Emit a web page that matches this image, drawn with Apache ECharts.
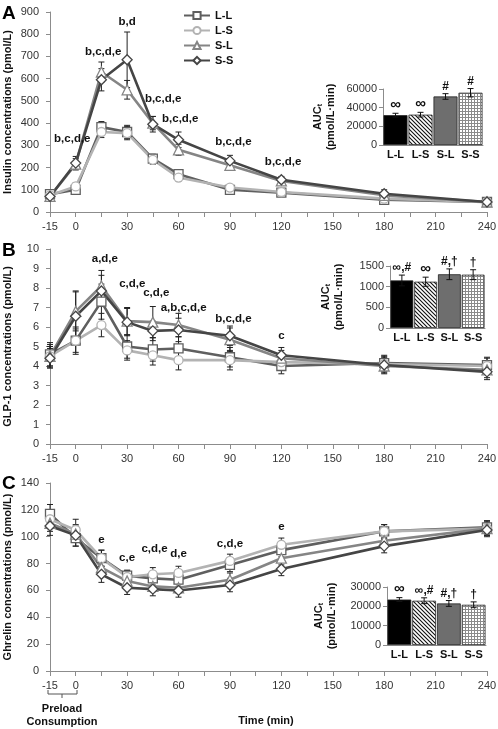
<!DOCTYPE html>
<html><head><meta charset="utf-8">
<script src="https://cdn.jsdelivr.net/npm/echarts@6/dist/echarts.min.js"></script>
<style>html,body{margin:0;padding:0;background:#fff}#c{width:498px;height:729px}</style>
</head><body><div id="c"></div>
<script>
const times = [-15,0,15,30,45,60,90,120,180,240];
const groups = ['L-L','L-S','S-L','S-S'];
const xTickLabels = [-15,0,30,60,90,120,150,180,210,240];

// Panel A: Insulin (pmol/L)
const insLL = [80,100,382,360,240,170,100,87,55,45];
const insLS = [75,115,360,355,235,155,110,90,60,45];
const insSL = [70,215,630,550,400,280,210,140,75,45];
const insSS = [70,220,595,685,395,325,230,145,82,45];
const insErrLL = [10,15,25,30,20,15,10,10,10,8];
const insErrLS = [10,15,25,30,20,15,10,10,10,8];
const insErrSL = [15,25,45,42,30,25,20,15,15,8];
const insErrSS = [15,30,50,125,35,35,25,15,18,8];
const insAnn = [[-2,330,'b,c,d,e'],[16,720,'b,c,d,e'],[30,855,'b,d'],[51,510,'b,c,d,e'],[61,418,'b,c,d,e'],[92,315,'b,c,d,e'],[121,225,'b,c,d,e']];
const insAUC = [32000,32500,52000,56000];
const insAUCErr = [2000,2500,3000,4500];
const insAUCLab = ['∞','∞','#','#'];

// Panel B: GLP-1 (pmol/L)
const glpLL = [4.6,5.3,7.3,5.0,4.85,4.9,4.45,4.0,4.15,4.05];
const glpLS = [4.5,5.3,6.1,4.8,4.55,4.3,4.3,4.2,4.1,4.0];
const glpSL = [4.5,6.8,8.1,6.3,6.25,6.1,5.35,4.4,4.0,3.8];
const glpSS = [4.4,6.55,7.85,6.25,5.8,5.85,5.55,4.55,4.05,3.7];
const glpErrLL = [0.6,0.7,0.9,0.6,0.6,0.6,0.5,0.4,0.4,0.4];
const glpErrLS = [0.5,0.6,0.6,0.5,0.5,0.5,0.5,0.4,0.4,0.4];
const glpErrSL = [0.6,1.0,0.8,0.7,0.8,0.6,0.6,0.4,0.4,0.4];
const glpErrSS = [0.5,1.3,0.8,0.7,0.5,0.6,0.5,0.4,0.4,0.4];
const glpAnn = [[17,9.5,'a,d,e'],[33,8.2,'c,d,e'],[47,7.75,'c,d,e'],[63,7.0,'a,b,c,d,e'],[92,6.4,'b,c,d,e'],[120,5.55,'c']];
const glpAUC = [1150,1120,1300,1290];
const glpAUCErr = [130,110,130,120];
const glpAUCLab = ['∞,#','∞','#,†','†'];

// Panel C: Ghrelin (pmol/L)
const ghrLL = [117,99,84,71,69,68,79,90,104,107];
const ghrLS = [113,105,84,70,72,73,82,94,104,106];
const ghrSL = [110,102,77,67,63,62,68,84,97,106];
const ghrSS = [108,101,72,62,61,60,64,76,93,105];
const ghrErrLL = [7,6,6,4,5,5,5,5,5,5];
const ghrErrLS = [7,8,6,5,5,5,5,5,5,5];
const ghrErrSL = [6,6,6,5,4,4,5,5,5,5];
const ghrErrSS = [7,8,6,5,5,5,5,5,5,5];
const ghrAnn = [[15,98,'e'],[30,84,'c,e'],[46,90.7,'c,d,e'],[60,87,'d,e'],[90,95,'c,d,e'],[120,107,'e']];
const ghrAUC = [23500,22900,21500,20800];
const ghrAUCErr = [1000,1500,1500,1500];
const ghrAUCLab = ['∞','∞,#','#,†','†'];

const colors = ['#5f5f5f','#b3b3b3','#858585','#454545'];
const symbols = ['rect','circle','triangle','diamond'];
const FONT = '"Liberation Sans", Arial, sans-serif';

function hatchCanvas(){
  const c=document.createElement('canvas'); c.width=4; c.height=4;
  const g=c.getContext('2d'); g.fillStyle='#fff'; g.fillRect(0,0,4,4);
  g.strokeStyle='#111'; g.lineWidth=1.1; g.beginPath();
  g.moveTo(0,0); g.lineTo(4,4); g.moveTo(-2,2); g.lineTo(2,6); g.moveTo(2,-2); g.lineTo(6,2);
  g.stroke(); return c;
}
function gridCanvas(){
  const c=document.createElement('canvas'); c.width=3; c.height=3;
  const g=c.getContext('2d'); g.fillStyle='#fff'; g.fillRect(0,0,3,3);
  g.fillStyle='#8a8a8a'; g.fillRect(0,0,3,1); g.fillRect(0,0,1,3); return c;
}
const barFills = ['#000', {image:hatchCanvas(), repeat:'repeat'}, '#6e6e6e', {image:gridCanvas(), repeat:'repeat'}];

const axisLineStyle = {onZero:false, lineStyle:{color:'#8c8c8c', width:1}};
const labelStyle = {color:'#333', fontSize:11, fontFamily:FONT};

const gridBase = {containLabel:false, outerBoundsMode:'none'};
const grids = [
  Object.assign({left:50, top:12, width:437, height:200}, gridBase),
  Object.assign({left:383, top:89, width:100, height:56}, gridBase),
  Object.assign({left:50, top:249, width:437, height:195}, gridBase),
  Object.assign({left:390, top:266, width:95, height:62}, gridBase),
  Object.assign({left:50, top:483, width:437, height:188}, gridBase),
  Object.assign({left:387, top:587, width:99, height:58}, gridBase)
];

function mainX(gi){
  return {type:'value', gridIndex:gi, min:-15, max:240, interval:15,
    axisLine:axisLineStyle, axisTick:{show:true, length:5, lineStyle:{color:'#8c8c8c'}},
    splitLine:{show:false},
    axisLabel:Object.assign({margin:9, formatter:v=> xTickLabels.indexOf(v)>=0 ? String(v) : ''}, labelStyle)};
}
function mainY(gi, max, interval, name){
  return {type:'value', gridIndex:gi, min:0, max, interval, name, nameLocation:'middle', nameGap:37, nameRotate:90,
    nameMoveOverlap:false,
    nameTextStyle:{fontWeight:'bold', fontSize:11, color:'#111', fontFamily:FONT},
    axisLine:Object.assign({show:true}, axisLineStyle), axisTick:{show:true, length:4, lineStyle:{color:'#8c8c8c'}},
    splitLine:{show:false}, axisLabel:Object.assign({margin:11, formatter:v=>String(v)}, labelStyle)};
}
function insetX(gi){
  return {type:'category', gridIndex:gi, data:groups, axisLine:axisLineStyle, axisTick:{show:false},
    axisLabel:{interval:0, margin:4, fontWeight:'bold', fontSize:11, color:'#111', fontFamily:FONT}};
}
function insetY(gi, max, interval, gap){
  return {type:'value', gridIndex:gi, min:0, max, interval,
    name:'{a|AUC}{s|t}\n{a|(pmol/L·min)}', nameLocation:'middle', nameRotate:90, nameGap:gap, nameMoveOverlap:false,
    nameTextStyle:{rich:{a:{fontWeight:'bold', fontSize:11, color:'#111', fontFamily:FONT, lineHeight:13},
                         s:{fontWeight:'bold', fontSize:7, color:'#111', fontFamily:FONT, padding:[6,0,0,0]}}},
    axisLine:Object.assign({show:true}, axisLineStyle), axisTick:{show:true, length:4, lineStyle:{color:'#8c8c8c'}},
    splitLine:{show:false}, axisLabel:Object.assign({margin:6, formatter:v=>String(v)}, labelStyle)};
}

function lineSeries(gi, vals){
  return vals.map((d,k)=>({
    name:groups[k], type:'line', xAxisIndex:gi, yAxisIndex:gi,
    data:times.map((t,i)=>[t,d[i]]), symbol:symbols[k], symbolSize: k===2?10:(k===3?10:9),
    lineStyle:{color:colors[k], width:2.6}, itemStyle:{color:'#fff', borderColor:colors[k], borderWidth:1.3},
    z:3, animation:false
  }));
}
function errSeries(gi, vals, errs){
  const data=[];
  vals.forEach((d,k)=>d.forEach((v,i)=>data.push([times[i], v-errs[k][i], v+errs[k][i]])));
  return {type:'custom', xAxisIndex:gi, yAxisIndex:gi, z:2, animation:false, data, encode:{x:0,y:[1,2]},
    renderItem:(p,api)=>{
      const x=api.value(0), a=api.coord([x,api.value(2)]), b=api.coord([x,api.value(1)]), w=3;
      const st={stroke:'#222', lineWidth:1};
      return {type:'group', children:[
        {type:'line', shape:{x1:a[0],y1:a[1],x2:b[0],y2:b[1]}, style:st},
        {type:'line', shape:{x1:a[0]-w,y1:a[1],x2:a[0]+w,y2:a[1]}, style:st},
        {type:'line', shape:{x1:b[0]-w,y1:b[1],x2:b[0]+w,y2:b[1]}, style:st}]};
    }};
}
function annSeries(gi, ann){
  return {type:'custom', xAxisIndex:gi, yAxisIndex:gi, z:5, animation:false,
    data:ann.map(a=>[a[0],a[1]]), encode:{x:0,y:1},
    renderItem:(p,api)=>{
      const c=api.coord([api.value(0),api.value(1)]);
      return {type:'text', x:c[0], y:c[1], style:{text:ann[p.dataIndex][2], fill:'#111',
        font:'bold 11.5px '+FONT, align:'center', verticalAlign:'middle'}};
    }};
}
function barSeries(gi, vals){
  return {type:'bar', xAxisIndex:gi, yAxisIndex:gi, barCategoryGap:'4%', animation:false,
    data:vals.map((v,i)=>({value:v, itemStyle:{color:barFills[i], borderColor:'#222', borderWidth:0.8}}))};
}
function barErr(gi, vals, errs, labs){
  return {type:'custom', xAxisIndex:gi, yAxisIndex:gi, z:4, animation:false,
    data:vals.map((v,i)=>[i, v-errs[i], v+errs[i]]), encode:{x:0,y:[1,2]},
    renderItem:(p,api)=>{
      const i=api.value(0), a=api.coord([i,api.value(2)]), b=api.coord([i,api.value(1)]), w=3;
      const st={stroke:'#111', lineWidth:1};
      const lab=labs[p.dataIndex];
      return {type:'group', children:[
        {type:'line', shape:{x1:a[0],y1:a[1],x2:b[0],y2:b[1]}, style:st},
        {type:'line', shape:{x1:a[0]-w,y1:a[1],x2:a[0]+w,y2:a[1]}, style:st},
        {type:'line', shape:{x1:b[0]-w,y1:b[1],x2:b[0]+w,y2:b[1]}, style:st},
        {type:'text', x:a[0], y:a[1]-1, style:{text:lab, fill:'#111', font:'bold '+(lab==='∞'?'15px ':'12px ')+FONT, align:'center', verticalAlign:'bottom'}}]};
    }};
}

const series = [].concat(
  [errSeries(0,[insLL,insLS,insSL,insSS],[insErrLL,insErrLS,insErrSL,insErrSS])],
  lineSeries(0,[insLL,insLS,insSL,insSS]),
  [annSeries(0,insAnn), barSeries(1,insAUC), barErr(1,insAUC,insAUCErr,insAUCLab)],
  [errSeries(2,[glpLL,glpLS,glpSL,glpSS],[glpErrLL,glpErrLS,glpErrSL,glpErrSS])],
  lineSeries(2,[glpLL,glpLS,glpSL,glpSS]),
  [annSeries(2,glpAnn), barSeries(3,glpAUC), barErr(3,glpAUC,glpAUCErr,glpAUCLab)],
  [errSeries(4,[ghrLL,ghrLS,ghrSL,ghrSS],[ghrErrLL,ghrErrLS,ghrErrSL,ghrErrSS])],
  lineSeries(4,[ghrLL,ghrLS,ghrSL,ghrSS]),
  [annSeries(4,ghrAnn), barSeries(5,ghrAUC), barErr(5,ghrAUC,ghrAUCErr,ghrAUCLab)]
);

const chart = echarts.init(document.getElementById('c'), null, {renderer:'canvas'});
chart.setOption({
  animation:false,
  backgroundColor:'#fff',
  textStyle:{fontFamily:FONT},
  grid:grids,
  xAxis:[mainX(0), insetX(1), mainX(2), insetX(3), mainX(4), insetX(5)],
  yAxis:[mainY(0,900,100,'Insulin concentrations (pmol/L)'), insetY(1,60000,20000,46),
         mainY(2,10,1,'GLP-1 concentrations (pmol/L)'), insetY(3,1500,500,45),
         mainY(4,140,20,'Ghrelin concentrations (pmol/L)'), insetY(5,30000,10000,49)],
  legend:{data:groups, orient:'vertical', left:178, top:5, itemWidth:26, itemHeight:9, itemGap:4,
    textStyle:{fontWeight:'bold', fontSize:11, color:'#111', fontFamily:FONT}},
  series,
  graphic:[
    {type:'text', left:2, top:4, style:{text:'A', font:'bold 19px '+FONT, fill:'#000'}},
    {type:'text', left:2, top:241, style:{text:'B', font:'bold 19px '+FONT, fill:'#000'}},
    {type:'text', left:2, top:474, style:{text:'C', font:'bold 19px '+FONT, fill:'#000'}},
    {type:'polyline', shape:{points:[[48,690],[48,694],[77,694],[77,690]]}, style:{stroke:'#555', lineWidth:1, fill:null}},
    {type:'line', shape:{x1:62,y1:694,x2:62,y2:698}, style:{stroke:'#555', lineWidth:1}},
    {type:'text', x:62, y:709, style:{text:'Preload', font:'bold 11px '+FONT, fill:'#111', align:'center', verticalAlign:'middle'}},
    {type:'text', x:62, y:722, style:{text:'Consumption', font:'bold 11px '+FONT, fill:'#111', align:'center', verticalAlign:'middle'}},
    {type:'text', x:266, y:721, style:{text:'Time (min)', font:'bold 11px '+FONT, fill:'#111', align:'center', verticalAlign:'middle'}}
  ]
});
</script></body></html>
